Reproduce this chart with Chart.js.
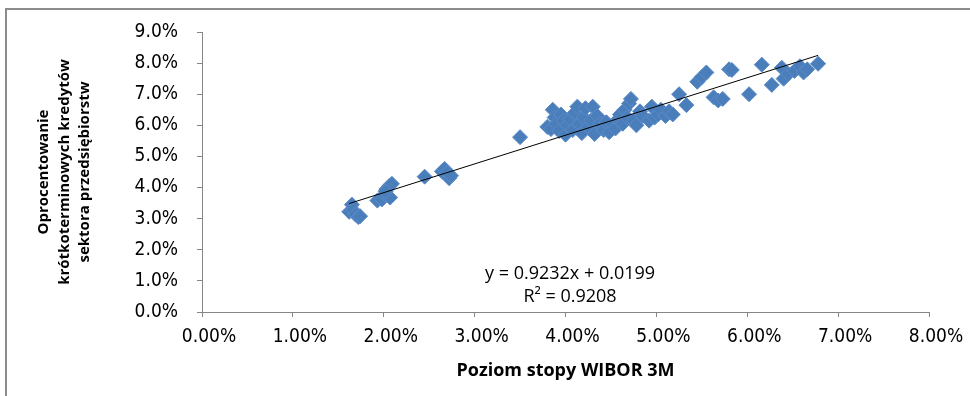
<!DOCTYPE html>
<html>
<head>
<meta charset="utf-8">
<script src="https://cdn.jsdelivr.net/npm/chart.js@4/dist/chart.umd.min.js"></script>
<style>
  html, body { margin: 0; padding: 0; background: #fff; }
  #wrap { position: relative; width: 970px; height: 396px; }
  #frame { position: absolute; left: 5px; top: 8px; width: 980px; height: 400px;
           border: 2px solid #8c8c8c; box-sizing: border-box; }
</style>
</head>
<body>
<div id="wrap">
  <div id="frame"></div>
  <canvas id="chart" width="970" height="396"></canvas>
</div>
<script>
// WIBOR 3M (%) vs short-term loan rate for enterprises (%)
const wibor = [
  1.62, 1.65, 1.66, 1.69, 1.72, 1.74,
  1.93, 1.98, 2.01, 2.03, 2.06, 2.09, 2.07, 2.02,
  2.45,
  2.64, 2.67, 2.69, 2.72, 2.70, 2.74,
  3.50,
  3.80, 3.84, 3.86, 3.88, 3.90, 3.93, 3.95, 3.98, 4.00, 4.02,
  4.05, 4.08, 4.10, 4.13, 4.15, 4.18, 4.20, 4.22, 4.25, 4.28,
  4.30, 4.32, 4.35, 4.38, 4.42, 4.45, 4.48, 4.52, 4.55, 4.58,
  4.60, 4.63, 4.65, 4.68, 4.70, 4.72, 4.75, 4.78, 4.82, 4.85,
  4.92, 4.95, 4.98, 5.02, 5.05, 5.10, 5.14, 5.18,
  5.25, 5.33,
  5.45, 5.50, 5.55, 5.63, 5.68, 5.73, 5.80, 5.83,
  6.02, 6.16, 6.27, 6.38, 6.40, 6.45, 6.52, 6.58, 6.62, 6.66, 6.78
];
const loanRate = [
  3.22, 3.45, 3.28, 3.13, 3.05, 3.08,
  3.58, 3.62, 3.78, 3.95, 4.05, 4.12, 3.68, 3.88,
  4.35,
  4.52, 4.60, 4.42, 4.30, 4.48, 4.38,
  5.62,
  5.95, 5.88, 6.50, 6.25, 6.05, 5.82, 6.35, 6.15, 5.70, 6.00,
  6.20, 5.85, 6.40, 6.60, 6.05, 5.75, 6.25, 6.55, 5.95, 6.15,
  6.60, 5.72, 6.30, 6.05, 5.85, 6.10, 5.78, 6.00, 5.90, 6.20,
  6.35, 6.05, 6.50, 6.25, 6.70, 6.85, 6.15, 6.00, 6.45, 6.30,
  6.15, 6.60, 6.25, 6.35, 6.50, 6.30, 6.45, 6.35,
  7.00, 6.65,
  7.40, 7.55, 7.70, 6.90, 6.80, 6.85, 7.80, 7.78,
  7.00, 7.95, 7.30, 7.85, 7.50, 7.65, 7.75, 7.90, 7.70, 7.80, 7.98
];

// linear trend, fitted on fractions
const slope = 0.9232;
const intercept = 0.0199;
const trendText = ["y = 0.9232x + 0.0199", "R\u00B2 = 0.9208"];

const points = wibor.map((x, i) => ({ x: x, y: loanRate[i] }));
const xMin = Math.min(...wibor);
const xMax = Math.max(...wibor);
const trend = [xMin, xMax].map(x => ({ x: x, y: (slope * x / 100 + intercept) * 100 }));

const axisGray = "#868686";
const tickFont = { family: "'Liberation Sans Narrow', 'DejaVu Sans Condensed', sans-serif", size: 19 };
const yTitleFont = { family: "'Open Sans', 'Liberation Sans', sans-serif", size: 15, weight: "bold", lineHeight: 1.35 };
const xTitleFont = { family: "'Open Sans', 'Liberation Sans', sans-serif", size: 18, weight: "bold", lineHeight: 1.2 };

// equation label under the trend line
const equationLabel = {
  id: "equationLabel",
  afterDatasetsDraw(chart) {
    const ctx = chart.ctx;
    const xs = chart.scales.x;
    const ys = chart.scales.y;
    ctx.save();
    ctx.fillStyle = "#000";
    ctx.font = "18px 'Open Sans', 'Liberation Sans', sans-serif";
    ctx.textAlign = "center";
    ctx.textBaseline = "middle";
    ctx.fillText(trendText[0], xs.getPixelForValue(4.05), ys.getPixelForValue(1.22));
    ctx.fillText(trendText[1], xs.getPixelForValue(4.05), ys.getPixelForValue(0.48));
    ctx.restore();
  }
};

new Chart(document.getElementById("chart"), {
  type: "scatter",
  data: {
    datasets: [
      {
        label: "Oprocentowanie",
        data: points,
        pointStyle: "rectRot",
        pointRadius: 7.5,
        backgroundColor: "#4a7ebb",
        borderColor: "#5b8bc6",
        borderWidth: 1,
        order: 2,
      },
      {
        type: "line",
        label: "Trend",
        data: trend,
        borderColor: "#000",
        borderWidth: 1,
        pointRadius: 0,
        fill: false,
        order: 1,
      },
    ],
  },
  options: {
    responsive: false,
    animation: false,
    layout: { padding: { left: 0, top: 32, right: 41, bottom: 0 } },
    plugins: {
      legend: { display: false },
      tooltip: { enabled: false },
    },
    scales: {
      x: {
        type: "linear",
        min: 0,
        max: 8,
        afterFit(scale) { scale.height = 84; },
        ticks: {
          stepSize: 1,
          color: "#000",
          font: tickFont,
          padding: 9,
          labelOffset: 7,
          maxRotation: 0,
          callback: (v) => v.toFixed(2) + "%",
        },
        grid: { drawOnChartArea: false, color: axisGray, tickLength: 5 },
        border: { color: axisGray },
        title: {
          display: true,
          text: "Poziom stopy WIBOR 3M",
          color: "#000",
          font: xTitleFont,
          padding: { top: 0, bottom: 14 },
        },
      },
      y: {
        min: 0,
        max: 9,
        afterFit(scale) { scale.width = 202; },
        ticks: {
          stepSize: 1,
          color: "#000",
          font: tickFont,
          padding: 19,
          callback: (v) => v.toFixed(1) + "%",
        },
        grid: { drawOnChartArea: false, color: axisGray, tickLength: 5 },
        border: { color: axisGray },
        title: {
          display: true,
          text: ["Oprocentowanie", "krótkoterminowych kredytów", "sektora przedsiębiorstw"],
          color: "#000",
          font: yTitleFont,
          padding: { top: 34, bottom: 0 },
        },
      },
    },
  },
  plugins: [equationLabel],
});
</script>
</body>
</html>
